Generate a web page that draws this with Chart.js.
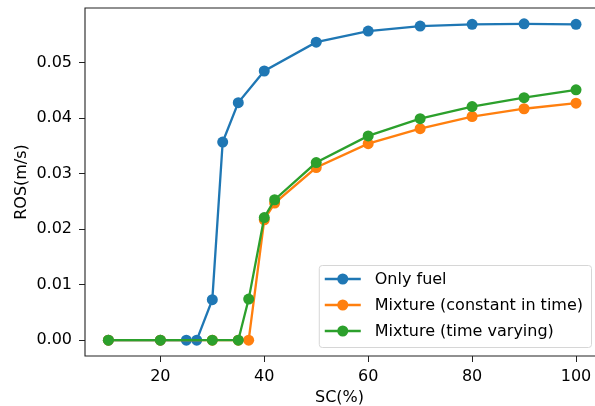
<!DOCTYPE html>
<html>
<head>
<meta charset="utf-8">
<script src="https://cdn.jsdelivr.net/npm/chart.js@4.4.1/dist/chart.umd.min.js"></script>
<style>
  body { margin: 0; overflow: hidden; background: #fff; }
  #wrap { width: 595px; height: 406px; }
</style>
</head>
<body>
<div id="wrap"><canvas id="myChart" width="595" height="406"></canvas></div>
<script>
// data
const scFuel = [10, 20, 25, 27, 30, 32, 35, 40, 50, 60, 70, 80, 90, 100];
const rosFuel = [0, 0, 0, 0, 0.0073, 0.0357, 0.0428, 0.0485, 0.0537, 0.0557, 0.0566, 0.0569, 0.0570, 0.0569];
const scConst = [10, 20, 30, 35, 37, 40, 42, 50, 60, 70, 80, 90, 100];
const rosConst = [0, 0, 0, 0, 0, 0.0217, 0.0247, 0.0311, 0.0354, 0.0381, 0.0403, 0.0417, 0.0427];
const scVary = [10, 20, 30, 35, 37, 40, 42, 50, 60, 70, 80, 90, 100];
const rosVary = [0, 0, 0, 0, 0.0074, 0.0221, 0.0253, 0.0320, 0.0368, 0.0399, 0.0421, 0.0437, 0.0451];
const seriesNames = ['Only fuel', 'Mixture (constant in time)', 'Mixture (time varying)'];
const xTicks = [20, 40, 60, 80, 100];
const yTicks = [0, 0.01, 0.02, 0.03, 0.04, 0.05];

const FONT = 'DejaVu Sans';
const colors = ['#1f77b4', '#ff7f0e', '#2ca02c'];

function pts(xs, ys) {
    return xs.map(function(x, i) { return {x: x, y: ys[i]}; });
}

function makeSet(i, xs, ys) {
    return {
        label: seriesNames[i],
        data: pts(xs, ys),
        borderColor: colors[i],
        backgroundColor: colors[i],
        borderWidth: 2.3,
        pointRadius: 5.5,
        pointBorderWidth: 0,
        pointHoverRadius: 5.5,
        tension: 0,
        order: 3 - i   // later series drawn on top, like matplotlib
    };
}

// frame around the plot (right side is cropped off in the original) + legend box
const framePlugin = {
    id: 'frame',
    afterDraw: function(chart) {
        const ctx = chart.ctx;
        const a = chart.chartArea;
        ctx.save();
        ctx.strokeStyle = '#222';
        ctx.lineWidth = 1.1;
        ctx.beginPath();
        ctx.moveTo(chart.width, a.top);
        ctx.lineTo(a.left, a.top);
        ctx.lineTo(a.left, a.bottom);
        ctx.lineTo(chart.width, a.bottom);
        ctx.stroke();

        // legend
        ctx.font = '16px "' + FONT + '"';
        let maxW = 0;
        seriesNames.forEach(function(n) { maxW = Math.max(maxW, ctx.measureText(n).width); });
        const w = 56 + maxW + 8;
        const h = 82;
        const right = 591;
        const bottom = a.bottom - 9;
        const left = right - w;
        const top = bottom - h;
        ctx.beginPath();
        ctx.roundRect(left + 0.5, top + 0.5, w, h, 3);
        ctx.fillStyle = 'rgba(255,255,255,0.8)';
        ctx.fill();
        ctx.strokeStyle = '#d6d6d6';
        ctx.lineWidth = 1;
        ctx.stroke();
        chart.data.datasets.forEach(function(ds, i) {
            const cy = top + 14 + i * 26;
            ctx.strokeStyle = ds.borderColor;
            ctx.lineWidth = 2.3;
            ctx.beginPath();
            ctx.moveTo(left + 6, cy);
            ctx.lineTo(left + 42, cy);
            ctx.stroke();
            ctx.fillStyle = ds.backgroundColor;
            ctx.beginPath();
            ctx.arc(left + 24, cy, 5.5, 0, Math.PI * 2);
            ctx.fill();
            ctx.fillStyle = '#000';
            ctx.textBaseline = 'middle';
            ctx.textAlign = 'left';
            ctx.fillText(ds.label, left + 56, cy + 1);
        });
        ctx.restore();
    }
};

document.addEventListener('DOMContentLoaded', function() {
    var ctx = document.getElementById('myChart').getContext('2d');

    var myChart = new Chart(ctx, {
        type: 'line',
        data: {
            datasets: [
                makeSet(0, scFuel, rosFuel),
                makeSet(1, scConst, rosConst),
                makeSet(2, scVary, rosVary)
            ]
        },
        options: {
            responsive: false,
            animation: false,
            devicePixelRatio: 1,
            layout: { autoPadding: false, padding: { top: 8, right: 1, left: 0, bottom: 0 } },
            plugins: {
                legend: { display: false },
                tooltip: { enabled: false }
            },
            scales: {
                x: {
                    type: 'linear',
                    min: 5.5,
                    max: 103.46,
                    afterBuildTicks: function(s) { s.ticks = xTicks.map(function(v) { return {value: v}; }); },
                    afterFit: function(s) { s.height = 50; s.paddingLeft = 0; s.paddingRight = 0; },
                    grid: { drawOnChartArea: false, drawTicks: true, tickLength: 6, color: '#222', lineWidth: 1 },
                    border: { display: false },
                    ticks: { color: '#000', padding: 5, maxRotation: 0, font: { family: FONT, size: 16 } },
                    title: { display: true, text: 'SC(%)', color: '#000', padding: { top: 0, bottom: 0 }, font: { family: FONT, size: 16, lineHeight: 1.0 } }
                },
                y: {
                    min: -0.00285,
                    max: 0.05985,
                    afterBuildTicks: function(s) { s.ticks = yTicks.map(function(v) { return {value: v}; }); },
                    afterFit: function(s) { s.width = 85; s.paddingTop = 0; s.paddingBottom = 0; },
                    grid: { drawOnChartArea: false, drawTicks: true, tickLength: 6, color: '#222', lineWidth: 1 },
                    border: { display: false },
                    ticks: {
                        color: '#000',
                        padding: 7,
                        font: { family: FONT, size: 16 },
                        callback: function(v) { return v.toFixed(2); }
                    },
                    title: { display: true, text: 'ROS(m/s)', color: '#000', padding: { top: 12, bottom: 0 }, font: { family: FONT, size: 16 } }
                }
            }
        },
        plugins: [framePlugin]
    });
});
</script>
</body>
</html>
